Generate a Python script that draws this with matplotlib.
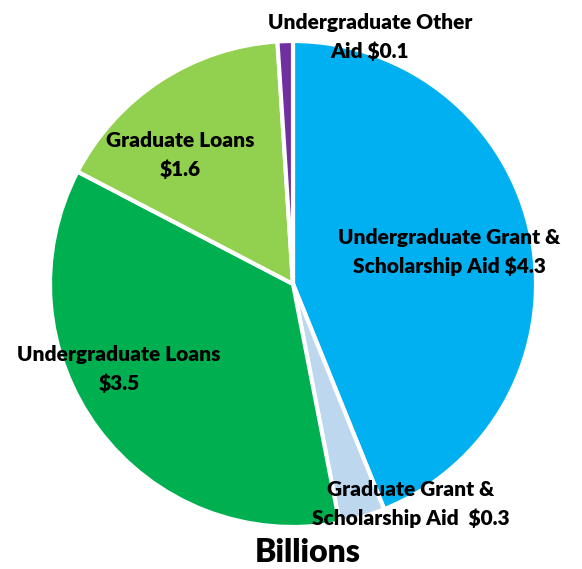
import matplotlib
matplotlib.use("Agg")
import matplotlib.pyplot as plt

# Financial aid breakdown, in billions of dollars
categories = [
    "Undergraduate Grant &\nScholarship Aid $4.3",
    "Graduate Grant &\nScholarship Aid  $0.3",
    "Undergraduate Loans\n$3.5",
    "Graduate Loans\n$1.6",
    "Undergraduate Other\nAid $0.1",
]
values = [4.3, 0.3, 3.5, 1.6, 0.1]
colors = ["#00B0F0", "#BDD7EE", "#00B050", "#92D050", "#7030A0"]

W, H = 582, 569
fig = plt.figure(figsize=(W / 100, H / 100), dpi=100)
ax = fig.add_axes([0, 0, 1, 1])

cx, cy, r = 293, H - 284, 243
wedges, _ = ax.pie(
    values,
    colors=colors,
    startangle=90,
    counterclock=False,
    center=(cx, cy),
    radius=r,
    wedgeprops=dict(edgecolor="white", linewidth=3),
    frame=True,
)
ax.set_xlim(0, W)
ax.set_ylim(0, H)
ax.set_aspect("equal")
ax.axis("off")

font = "Lato"
label_pos = [(449, 252), (411, 504), (119, 369), (180, 155), (370, 37)]
for text, (px, py) in zip(categories, label_pos):
    ax.text(px, H - py, text, ha="center", va="center", fontsize=15,
            fontweight="heavy", family=font, linespacing=1.62, color="black")

ax.text(308, H - 552, "Billions", ha="center", va="center", fontsize=23,
        fontweight="heavy", family=font, color="black")

fig.savefig("out.png", dpi=100)
